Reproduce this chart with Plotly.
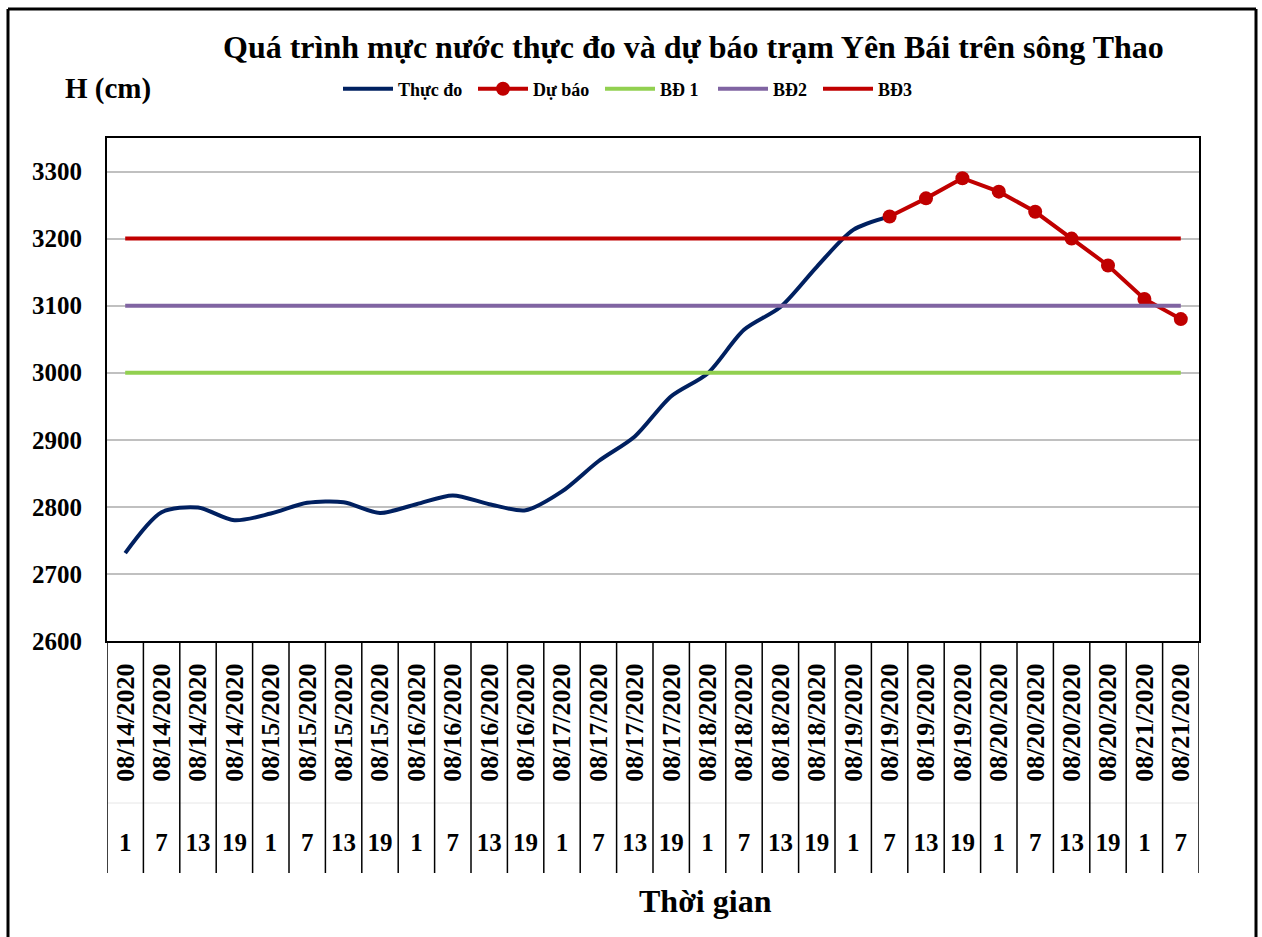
import plotly.graph_objects as go

# ---------------- data ----------------
dates = (["08/14/2020"] * 4 + ["08/15/2020"] * 4 + ["08/16/2020"] * 4 +
         ["08/17/2020"] * 4 + ["08/18/2020"] * 4 + ["08/19/2020"] * 4 +
         ["08/20/2020"] * 4 + ["08/21/2020"] * 2)
hours = ["1", "7", "13", "19"] * 7 + ["1", "7"]

thuc_do = [2731, 2792, 2799, 2780, 2790, 2806, 2807, 2791, 2804, 2817, 2804,
           2795, 2823, 2868, 2905, 2965, 2999, 3064, 3098, 3158, 3213, 3233]
du_bao_start = 21
du_bao = [3233, 3260, 3290, 3270, 3240, 3200, 3160, 3110, 3080]
bd1 = 3000
bd2 = 3100
bd3 = 3200

y_ticks = [2600, 2700, 2800, 2900, 3000, 3100, 3200, 3300]

title_text = "Quá trình mực nước thực đo và dự báo trạm Yên Bái trên sông Thao"
y_title = "H (cm)"
x_title = "Thời gian"

# ---------------- layout helpers ----------------
W, H = 1262, 937
def fx(p):
    return p / W
def fy(p):
    return 1 - p / H

FONT = "Liberation Serif"
idx = list(range(len(dates)))
n = len(idx)

fig = go.Figure()

fig.add_trace(go.Scatter(
    x=idx[:len(thuc_do)], y=thuc_do, name="Thực đo", mode="lines",
    legend="legend",
    line=dict(color="#002060", width=4, shape="spline", smoothing=0.8)))
fig.add_trace(go.Scatter(
    x=idx[du_bao_start:du_bao_start + len(du_bao)], y=du_bao, name="Dự báo",
    mode="lines+markers", legend="legend2",
    line=dict(color="#C00000", width=4),
    marker=dict(color="#C00000", size=14, symbol="circle")))
fig.add_trace(go.Scatter(
    x=idx, y=[bd1] * n, name="BĐ 1", mode="lines", legend="legend3",
    line=dict(color="#92D050", width=4)))
fig.add_trace(go.Scatter(
    x=idx, y=[bd2] * n, name="BĐ2", mode="lines", legend="legend4",
    line=dict(color="#8064A2", width=4)))
fig.add_trace(go.Scatter(
    x=idx, y=[bd3] * n, name="BĐ3", mode="lines", legend="legend5",
    line=dict(color="#C00000", width=4)))
# invisible helper trace for the hour axis
fig.add_trace(go.Scatter(
    x=idx, y=[bd1] * n, xaxis="x2", mode="lines", showlegend=False,
    hoverinfo="skip", line=dict(color="rgba(0,0,0,0)", width=0)))

datefont = dict(family=FONT, size=26, color="black", weight="bold")
tickfont = dict(family=FONT, size=25, color="black", weight="bold")
legfont = dict(family=FONT, size=18, color="black", weight="bold")

def leg(xpix):
    return dict(orientation="h", x=fx(xpix - 7), y=fy(89), xanchor="left",
                yanchor="middle", font=legfont, bgcolor="rgba(0,0,0,0)",
                itemwidth=50)

shapes = []
# separators of the category table
for i in range(n + 1):
    shapes.append(dict(type="line", xref="x", yref="paper",
                       x0=i - 0.5, x1=i - 0.5, y0=fy(873), y1=fy(641),
                       line=dict(color="black", width=1.5)))
# faint divider between date and hour rows
shapes.append(dict(type="line", xref="paper", yref="paper",
                   x0=fx(107), x1=fx(1199), y0=fy(803), y1=fy(803),
                   line=dict(color="#E6E6E6", width=1), layer="below"))
# outer chart border (left, top, right)
border = dict(color="black", width=3)
shapes.append(dict(type="line", xref="paper", yref="paper",
                   x0=fx(8), x1=fx(8), y0=0, y1=fy(9), line=border))
shapes.append(dict(type="line", xref="paper", yref="paper",
                   x0=fx(8), x1=fx(1256), y0=fy(9), y1=fy(9), line=border))
shapes.append(dict(type="line", xref="paper", yref="paper",
                   x0=fx(1256), x1=fx(1256), y0=0, y1=fy(9), line=border))

fig.update_layout(
    width=W, height=H,
    margin=dict(l=0, r=0, t=0, b=0, autoexpand=False),
    paper_bgcolor="white", plot_bgcolor="white",
    showlegend=True,
    legend=leg(345), legend2=leg(480), legend3=leg(607),
    legend4=leg(720), legend5=leg(825),
    xaxis=dict(domain=[fx(107), fx(1199)], range=[-0.5, n - 0.5],
               tickmode="array", tickvals=idx, ticktext=dates,
               tickangle=-90, tickfont=datefont, ticks="",
               ticklabelstandoff=10, automargin=False,
               showgrid=False, zeroline=False,
               showline=True, linecolor="black", linewidth=2, mirror=True),
    xaxis2=dict(overlaying="x", anchor="free", position=fy(825),
                range=[-0.5, n - 0.5], tickmode="array", tickvals=idx,
                ticktext=hours, tickfont=tickfont, ticks="",
                automargin=False,
                showgrid=False, zeroline=False, showline=False),
    yaxis=dict(domain=[fy(641), fy(138)], range=[2600, 3350],
               tickmode="array", tickvals=y_ticks,
               tickfont=tickfont, ticks="", ticklabelstandoff=18,
               automargin=False,
               showgrid=True, gridcolor="#C0C0C0", gridwidth=2,
               zeroline=False,
               showline=True, linecolor="black", linewidth=2, mirror=True),
    shapes=shapes,
    annotations=[
        dict(text=title_text, xref="paper", yref="paper", x=fx(693),
             y=fy(47), xanchor="center", yanchor="middle", showarrow=False,
             font=dict(family=FONT, size=32, color="black", weight="bold")),
        dict(text=y_title, xref="paper", yref="paper", x=fx(108),
             y=fy(89), xanchor="center", yanchor="middle", showarrow=False,
             font=dict(family=FONT, size=29, color="black", weight="bold")),
        dict(text=x_title, xref="paper", yref="paper", x=fx(705),
             y=fy(901), xanchor="center", yanchor="middle", showarrow=False,
             font=dict(family=FONT, size=32, color="black", weight="bold")),
    ],
)

fig.write_html("out.html", config={"displayModeBar": False},
               post_script="document.body.style.margin='0';document.body.style.overflow='hidden';")
